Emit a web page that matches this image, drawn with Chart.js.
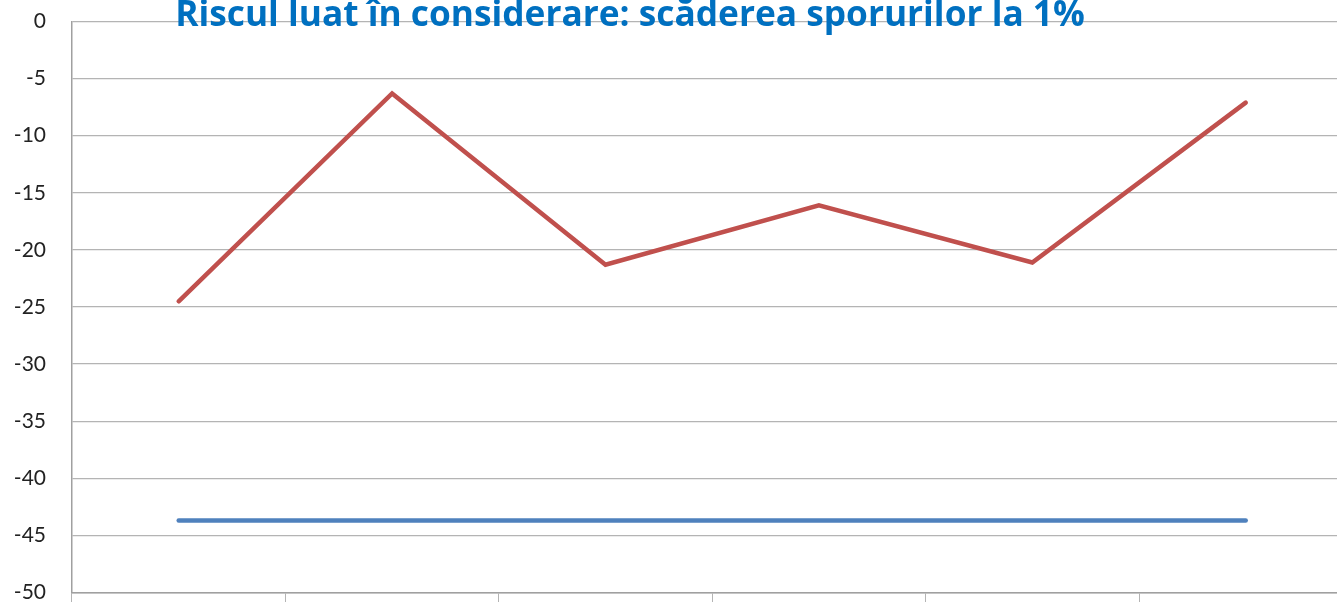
<!DOCTYPE html>
<html>
<head>
<meta charset="utf-8">
<script src="https://cdn.jsdelivr.net/npm/chart.js@4"></script>
<style>
  html, body { margin: 0; padding: 0; background: #fff; overflow: hidden; }
  #wrap { position: absolute; left: 0; top: 0; }
</style>
</head>
<body>
<div id="wrap"><canvas id="riskChart" width="1360" height="630"></canvas></div>
<script>
const titleText = 'Riscul luat în considerare: scăderea sporurilor la 1%';
const categories = ['1', '2', '3', '4', '5', '6'];
const baseSeries = [-43.7, -43.7, -43.7, -43.7, -43.7, -43.7];
const riskSeries = [-24.5, -6.3, -21.3, -16.1, -21.1, -7.1];
const yTicks = [0, -5, -10, -15, -20, -25, -30, -35, -40, -45, -50];

const gridColor = '#B4B4B4';
const axisColor = '#A0A0A0';

// title sits on top of the plot, partly cut off by the window edge
const cutTitle = {
    id: 'cutTitle',
    afterDraw(chart) {
        const c = chart.ctx;
        c.save();
        c.font = 'bold 100px "Open Sans"';
        const w = c.measureText(titleText).width;
        const size = 100 * 910 / w;
        c.font = 'bold ' + size + 'px "Open Sans"';
        c.fillStyle = '#0070C0';
        c.textAlign = 'center';
        c.textBaseline = 'alphabetic';
        c.fillText(titleText, 630, chart.chartArea.top + 4);
        c.restore();
    }
};

const ctx = document.getElementById('riskChart').getContext('2d');
const chart = new Chart(ctx, {
    type: 'line',
    data: {
        labels: categories,
        datasets: [{
            label: 'Serie 1',
            data: baseSeries,
            borderColor: '#4F81BD',
            borderWidth: 4.5,
            borderCapStyle: 'round',
            pointRadius: 0,
            tension: 0
        }, {
            label: 'Serie 2',
            data: riskSeries,
            borderColor: '#C0504D',
            borderWidth: 4.5,
            borderCapStyle: 'round',
            pointRadius: 0,
            tension: 0
        }]
    },
    options: {
        responsive: false,
        animation: false,
        devicePixelRatio: 1,
        layout: { padding: { top: 21.5, left: 0, right: 7.6, bottom: 0 } },
        plugins: {
            legend: { display: false },
            title: { display: false },
            tooltip: { enabled: false }
        },
        scales: {
            x: {
                offset: true,
                grid: {
                    offset: true,
                    drawOnChartArea: false,
                    drawTicks: true,
                    tickLength: 14,
                    color: gridColor
                },
                border: { color: axisColor, width: 1.5 },
                ticks: { display: false },
                afterFit: (s) => {
                    s.height = 37.5;
                    s.paddingLeft = 0;
                    s.paddingRight = 0;
                }
            },
            y: {
                min: -50,
                max: 0,
                afterBuildTicks: (s) => { s.ticks = yTicks.map(v => ({ value: v })); },
                grid: { color: gridColor, drawTicks: false, lineWidth: 1.2 },
                border: { color: axisColor, width: 1.5 },
                ticks: {
                    padding: 26,
                    color: '#222',
                    font: { family: 'Lato', size: 21 }
                },
                afterFit: (s) => {
                    s.width = 72;
                    s.paddingTop = 0;
                    s.paddingBottom = 0;
                }
            }
        }
    },
    plugins: [cutTitle]
});
</script>
</body>
</html>
